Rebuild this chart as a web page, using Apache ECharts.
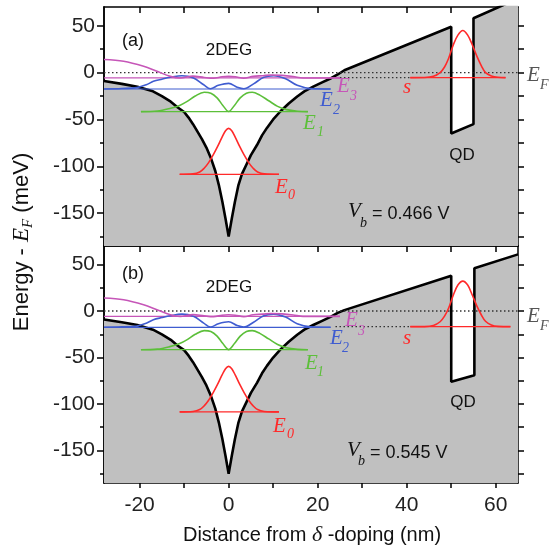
<!DOCTYPE html>
<html><head><meta charset="utf-8">
<script src="https://cdn.jsdelivr.net/npm/echarts@6/dist/echarts.min.js"></script>
<style>html,body{margin:0;padding:0;background:#fff}#c{width:552px;height:547px}</style>
</head><body><div id="c"></div>
<script>
// ---------------- data ----------------
const X_MIN = -28, X_MAX = 65, Y_MIN = -185, Y_MAX = 70;
const xTickVals = [-20, -10, 0, 10, 20, 30, 40, 50, 60];
const xLabelVals = [-20, 0, 20, 40, 60];
const yMajorVals = [-150, -100, -50, 0, 50];
const yMinorVals = [-175, -125, -75, -25, 25];
const yAllVals = [-175, -150, -125, -100, -75, -50, -25, 0, 25, 50];

// conduction band: delta-doping well (same in both panels)
const wellX = [-28, -24, -20.5, -17, -15, -13, -11.5, -10, -9, -8, -7, -6, -5, -4, -3, -2.2, -1.4, -0.7, 0,
  0.7, 1.4, 2.2, 3, 4, 5, 6.4, 7.5, 8.6, 10, 11.6, 13.5, 15.4, 17, 19, 21, 23, 24.5];
const wellY = [-9, -12, -15, -20, -25, -31, -37, -42, -48, -55, -63, -71, -80, -91, -105, -120, -138, -156, -175,
  -156, -138, -120, -108, -98, -88, -77, -67, -59, -50, -41.5, -33, -25.5, -20, -15, -10.5, -6, -2];
// band beyond the well incl. quantum dot, panel (a) and (b)
const tailAX = [26, 50, 50, 55, 55, 65];
const tailAY = [2.5, 49, -65, -55, 58, 79];
const tailBX = [26, 50, 50, 55.2, 55.2, 65];
const tailBY = [1, 38, -76, -69, 46, 61];

// subband wavefunctions (drawn on their levels)
const e0X = [-11, -8, -6.5, -5.5, -4.5, -3.5, -2.5, -1.5, -0.7, 0, 0.7, 1.5, 2.5, 3.5, 4.5, 5.5, 6.5, 8, 11.3];
const e0Y = [-108.5, -108, -106, -102, -96, -88, -79, -69, -62, -59.5, -62, -69, -79, -88, -96, -102, -106, -108, -108.5];
const e1X = [-19.7, -16, -13, -11, -9.4, -7.5, -5.5, -4, -2.6, -1.3, 0, 1.3, 2.6, 4, 5.3, 7, 9, 11, 13, 15.5, 17.8];
const e1Y = [-41.6, -41, -38, -35, -31, -25, -21, -22, -27, -35, -41.5, -35, -27, -22, -21, -24, -30, -36, -39.5, -41.2, -41.6];
const e2X = [-28, -24, -20.6, -18.5, -16.9, -15, -13.1, -10.5, -7.9, -5.6, -4.1, -2.3, 0, 1.9, 3.4, 5.6, 7.9, 10.1, 12.8, 15.4, 18.4, 22.9];
const e2Y = [-17.5, -17, -16, -13, -9.3, -7, -5, -3.3, -5.7, -13, -17.2, -13.6, -11.5, -15.5, -17.2, -12, -5, -3.3, -6.5, -13.6, -17, -17.5];
const e3X = [-28, -23.6, -19.1, -16.1, -13.1, -10.9, -8, -5.5, -3.4, -1.5, 0, 1.5, 3.4, 5.5, 7.7, 9.5, 12, 14.5, 16.7, 25];
const e3Y = [14, 12.2, 6.8, 1.4, -4, -5.7, -3.8, -5.2, -6, -4.5, -4, -4.5, -6, -4, -3.3, -2.6, -3, -4.2, -5.7, -5.7];
// QD s-state
const sAX = [40.8, 44, 46, 47.5, 48.5, 49.4, 50.5, 51.5, 52.6, 53.7, 54.7, 55.8, 56.8, 57.7, 59, 60.5, 62.2];
const sAY = [-5.3, -5.2, -4, 0, 6, 15, 30, 40, 45, 40, 30, 17, 7, 0, -3.5, -5, -5.3];
const sBX = [40.8, 44, 46, 47.5, 48.5, 49.4, 50.5, 51.5, 52.6, 53.7, 54.7, 55.8, 56.8, 57.7, 59, 60.5, 63.3];
const sBY = [-16.8, -16.7, -15.5, -11.5, -5.5, 3, 17.5, 28, 32.2, 28, 17.5, 5, -4.5, -11, -15, -16.5, -16.8];

// energy levels
const levelE = [-108.5, -41.6, -17.5, -5.7];
const levelStart = [-11, -19.7, -28, -28];
const levelEnd = [11.3, 17.8, 22.9, 25];
const sLevelA = -5.3, sLevelB = -16.8, sStart = 40.8, sEndA = 62.2, sEndB = 63.3;
const connA = [25, 40.8], connB = [24, 40.8];

// ---------------- style ----------------
const SANS = '"Liberation Sans", Arial, sans-serif';
const SERIF = '"Liberation Serif", "Times New Roman", serif';
const COL = { red: '#ff2a2a', green: '#5cbf3a', blue: '#3f5cd0', mag: '#c656b8', fill: '#c0c0c0' };
const levelCol = [COL.red, COL.green, COL.blue, COL.mag];
const waves = [[e0X, e0Y], [e1X, e1Y], [e2X, e2Y], [e3X, e3Y]];

const grids = [
  { left: 104, top: 7, width: 414, height: 239 },
  { left: 104, top: 246, width: 414, height: 237 }
];

function xAx(g, pos, showLabel, inside, len) {
  return {
    type: 'value', gridIndex: g, position: pos, min: X_MIN, max: X_MAX,
    axisLine: { show: true, onZero: false, lineStyle: { color: '#000', width: 1.5 } },
    splitLine: { show: false },
    axisTick: { show: true, inside: inside, length: len, customValues: xTickVals, lineStyle: { color: '#000', width: 1.5 } },
    axisLabel: { show: showLabel, customValues: xLabelVals, margin: 12, color: '#222', fontSize: 21, fontFamily: SANS }
  };
}
function yAx(g, pos, ticks, len, showLabel) {
  return {
    type: 'value', gridIndex: g, position: pos, min: Y_MIN, max: Y_MAX,
    axisLine: { show: true, onZero: false, lineStyle: { color: '#000', width: 1.5 } },
    splitLine: { show: false },
    axisTick: { show: true, inside: false, length: len, customValues: ticks, lineStyle: { color: '#000', width: 1.5 } },
    axisLabel: { show: showLabel, customValues: yMajorVals, margin: 9, color: '#222', fontSize: 21, fontFamily: SANS }
  };
}
const xAxes = [
  xAx(0, 'bottom', false, true, 6), xAx(0, 'top', false, true, 6),
  xAx(1, 'bottom', true, false, 5), xAx(1, 'top', false, true, 6)
];
const yAxes = [
  yAx(0, 'left', yMajorVals, 7, true), yAx(0, 'left', yMinorVals, 4, false), yAx(0, 'right', yAllVals, 6, false),
  yAx(1, 'left', yMajorVals, 7, true), yAx(1, 'left', yMinorVals, 4, false), yAx(1, 'right', yAllVals, 6, false)
];

function pts(xs, ys) { return xs.map((x, i) => [x, ys[i]]); }
function ln(p, data, color, width, extra) {
  return Object.assign({
    type: 'line', xAxisIndex: p ? 2 : 0, yAxisIndex: p ? 3 : 0, data: data,
    symbol: 'none', showSymbol: false, silent: true, animation: false,
    lineStyle: { color: color, width: width }, z: 3
  }, extra || {});
}

const series = [];
[0, 1].forEach(p => {
  const tx = p ? tailBX : tailAX, ty = p ? tailBY : tailAY;
  // band edge with gray filling underneath
  series.push(ln(p, pts(wellX.concat(tx), wellY.concat(ty)), '#000', 2.6,
    { areaStyle: { color: COL.fill, opacity: 1, origin: 'start' }, z: 2 }));
  // Fermi level
  series.push(ln(p, [[X_MIN, 0], [X_MAX, 0]], '#333', 1.4, { lineStyle: { color: '#333', width: 1.4, type: [1.5, 2.5] }, z: 4 }));
  // connector between 2DEG level and QD level
  const cn = p ? connB : connA, cl = p ? sLevelB : sLevelA;
  series.push(ln(p, [[cn[0], cl], [cn[1], cl]], '#333', 1.4, { lineStyle: { color: '#333', width: 1.4, type: [1.5, 2.5] }, z: 4 }));
  // levels and wavefunctions
  for (let i = 0; i < 4; i++) {
    series.push(ln(p, [[levelStart[i], levelE[i]], [levelEnd[i], levelE[i]]], levelCol[i], 1.2, { z: 5 }));
    series.push(ln(p, pts(waves[i][0], waves[i][1]), levelCol[i], 1.6, { smooth: 0.35, z: 6 }));
  }
  const sl = p ? sLevelB : sLevelA, se = p ? sEndB : sEndA;
  series.push(ln(p, [[sStart, sl], [se, sl]], COL.red, 1.2, { z: 5 }));
  series.push(ln(p, p ? pts(sBX, sBY) : pts(sAX, sAY), COL.red, 1.6, { smooth: 0.35, z: 6 }));
});

// ---------------- annotations ----------------
function T(x, y, text, o) {
  return { type: 'text', x: x, y: y, silent: true, z: 100,
    style: Object.assign({ text: text, fill: '#111', fontFamily: SANS, fontSize: 17, align: 'left', verticalAlign: 'middle' }, o || {}) };
}
function it(size, color) { return { fontFamily: SERIF, fontStyle: 'italic', fontSize: size, fill: color }; }
function sym(x, y, main, sub, color, dx, dy) {
  return [T(x, y, main, it(21, color)), T(x + dx, y + dy, sub, it(14, color))];
}
const labelsA = [
  T(133, 41, '(a)', { fontSize: 18, align: 'center' }),
  T(229, 50, '2DEG', { align: 'center' }),
  T(462, 155, 'QD', { align: 'center' }),
  T(348, 211, 'V', it(21, '#111')), T(360, 223, 'b', it(14, '#111')), T(372, 214, '= 0.466 V', { fontSize: 18 }),
  ...sym(275, 187, 'E', '0', COL.red, 13, 8),
  ...sym(303, 123.5, 'E', '1', COL.green, 14, 9),
  ...sym(320, 100, 'E', '2', COL.blue, 13, 10),
  ...sym(337, 86.5, 'E', '3', COL.mag, 13, 10),
  T(403, 87, 's', it(21, COL.red)),
  ...sym(527, 75, 'E', 'F', '#555', 13, 10)
];
const labelsB = [
  T(133, 274, '(b)', { fontSize: 18, align: 'center' }),
  T(229, 287, '2DEG', { align: 'center' }),
  T(463, 402, 'QD', { align: 'center' }),
  T(347, 450, 'V', it(21, '#111')), T(358, 461, 'b', it(14, '#111')), T(370, 453, '= 0.545 V', { fontSize: 18 }),
  ...sym(273, 426.5, 'E', '0', COL.red, 14, 8),
  ...sym(305, 363.5, 'E', '1', COL.green, 12, 9),
  ...sym(330, 338.5, 'E', '2', COL.blue, 12, 10),
  ...sym(345, 320, 'E', '3', COL.mag, 13, 11),
  T(403, 338, 's', it(21, COL.red)),
  ...sym(527, 316.5, 'E', 'F', '#555', 13, 10)
];
const titles = [
  { type: 'text', x: 22, y: 242, rotation: Math.PI / 2, silent: true, z: 100,
    style: { text: '{n|Energy - }{e|E}{f|F}{n| (meV)}', align: 'center', verticalAlign: 'middle',
      rich: {
        n: { fontFamily: SANS, fontSize: 22, lineHeight: 28, fill: '#111' },
        e: { fontFamily: SERIF, fontStyle: 'italic', fontSize: 23, lineHeight: 28, fill: '#111' },
        f: { fontFamily: SERIF, fontStyle: 'italic', fontSize: 15, lineHeight: 15, verticalAlign: 'bottom', fill: '#111' }
      } } },
  { type: 'text', x: 312, y: 535, silent: true, z: 100,
    style: { text: '{n|Distance from }{d|δ}{n| -doping (nm)}', align: 'center', verticalAlign: 'middle',
      rich: {
        n: { fontFamily: SANS, fontSize: 20, fill: '#111' },
        d: { fontFamily: SERIF, fontStyle: 'italic', fontSize: 22, fill: '#111' }
      } } }
];

const chart = echarts.init(document.getElementById('c'), null, { renderer: 'canvas' });
chart.setOption({
  animation: false,
  backgroundColor: '#fff',
  grid: grids,
  xAxis: xAxes,
  yAxis: yAxes,
  series: series,
  graphic: labelsA.concat(labelsB, titles)
});
</script></body></html>
